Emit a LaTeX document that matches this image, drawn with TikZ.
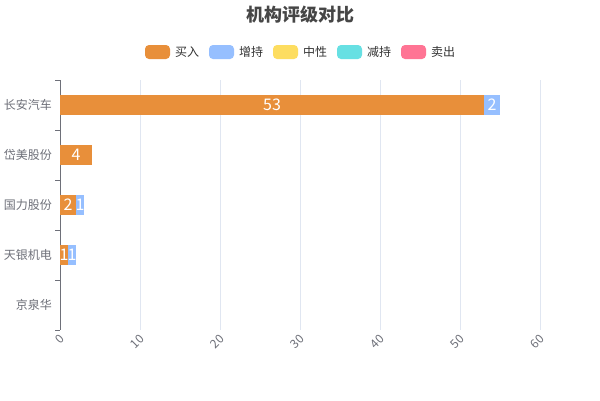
\documentclass[tikz,border=0pt]{standalone}
\usepackage{fontspec}
\setmainfont{Noto Sans CJK SC}
\usepackage{tikz}
\usetikzlibrary{positioning}

\definecolor{buy}{HTML}{E88F3A}
\definecolor{hold}{HTML}{96BFFF}
\definecolor{neutral}{HTML}{FDDD60}
\definecolor{reduce}{HTML}{67E0E3}
\definecolor{sell}{HTML}{FF7494}
\definecolor{axisgray}{HTML}{6E7079}
\definecolor{gridgray}{HTML}{E0E6F1}
\definecolor{titlegray}{HTML}{464646}
\definecolor{keygray}{HTML}{333333}

\tikzset{
  bar/.style={inner sep=0pt, outer sep=0pt, minimum height=20pt, anchor=west},
  num/.style={text=white, inner sep=0pt, font=\fontsize{16}{16}\selectfont},
  key/.style={rounded corners=4pt, minimum width=25pt, minimum height=14pt, inner sep=0pt, outer sep=0pt},
  keytext/.style={text=keygray, inner sep=0pt, outer sep=0pt, font=\fontsize{12}{12}\selectfont},
  cat/.style={text=axisgray, inner sep=0pt, anchor=east, font=\fontsize{12}{12}\selectfont},
  xlab/.style={text=axisgray, inner sep=0pt, anchor=east, rotate=45, font=\fontsize{12}{12}\selectfont},
  axis/.style={draw=axisgray, line width=1pt},
  grid/.style={draw=gridgray, line width=1pt}
}

\begin{document}
\begin{tikzpicture}[x=1pt, y=-1pt]
	 \useasboundingbox[fill=white] (0,0) rectangle (600,400);
	 \node[font=\bfseries\fontsize{18}{18}\selectfont, text=titlegray] (title) at (300,15) {机构评级对比};
	 % legend
	 \node[key, fill=buy] (kbuy) at (157.5,52) {};
	 \node[keytext, right=5pt of kbuy] (tbuy) {买入};
	 \node[key, fill=hold, right=10pt of tbuy] (khold) {};
	 \node[keytext, right=5pt of khold] (thold) {增持};
	 \node[key, fill=neutral, right=10pt of thold] (kneutral) {};
	 \node[keytext, right=5pt of kneutral] (tneutral) {中性};
	 \node[key, fill=reduce, right=10pt of tneutral] (kreduce) {};
	 \node[keytext, right=5pt of kreduce] (treduce) {减持};
	 \node[key, fill=sell, right=10pt of treduce] (ksell) {};
	 \node[keytext, right=5pt of ksell] (tsell) {卖出};
	 % grid and axes
	 \foreach \v in {1,...,6} \draw[grid] ({60+80*\v},80) -- ({60+80*\v},330);
	 \coordinate (top) at (60,80);
	 \coordinate (origin) at (60,330);
	 \draw[axis] (top) -- (origin);
	 \foreach \y in {80,130,...,330} \draw[axis] (55,\y) -- (60,\y);
	 \foreach \v in {0,10,...,60} \node[xlab] at ({60+8*\v+2},337) {\v};
	 % categories
	 \node[cat] (changan) at (52,105) {长安汽车};
	 \node[cat] (daimei) at (52,155) {岱美股份};
	 \node[cat] (guoli) at (52,205) {国力股份};
	 \node[cat] (tianyin) at (52,255) {天银机电};
	 \node[cat] (jingquan) at (52,305) {京泉华};
	 % bars
	 \node[bar, fill=buy, minimum width=424pt, label={[num]center:53}] (ca53) at (60,105) {};
	 \node[bar, fill=hold, minimum width=16pt, right=0pt of ca53, label={[num]center:2}] (ca2) {};
	 \node[bar, fill=buy, minimum width=32pt, label={[num]center:4}] (dm4) at (60,155) {};
	 \node[bar, fill=buy, minimum width=16pt, label={[num]center:2}] (gl2) at (60,205) {};
	 \node[bar, fill=hold, minimum width=8pt, right=0pt of gl2, label={[num]center:1}] (gl1) {};
	 \node[bar, fill=buy, minimum width=8pt, label={[num]center:1}] (ty1) at (60,255) {};
	 \node[bar, fill=hold, minimum width=8pt, right=0pt of ty1, label={[num]center:1}] (tyh1) {};
\end{tikzpicture}
\end{document}
